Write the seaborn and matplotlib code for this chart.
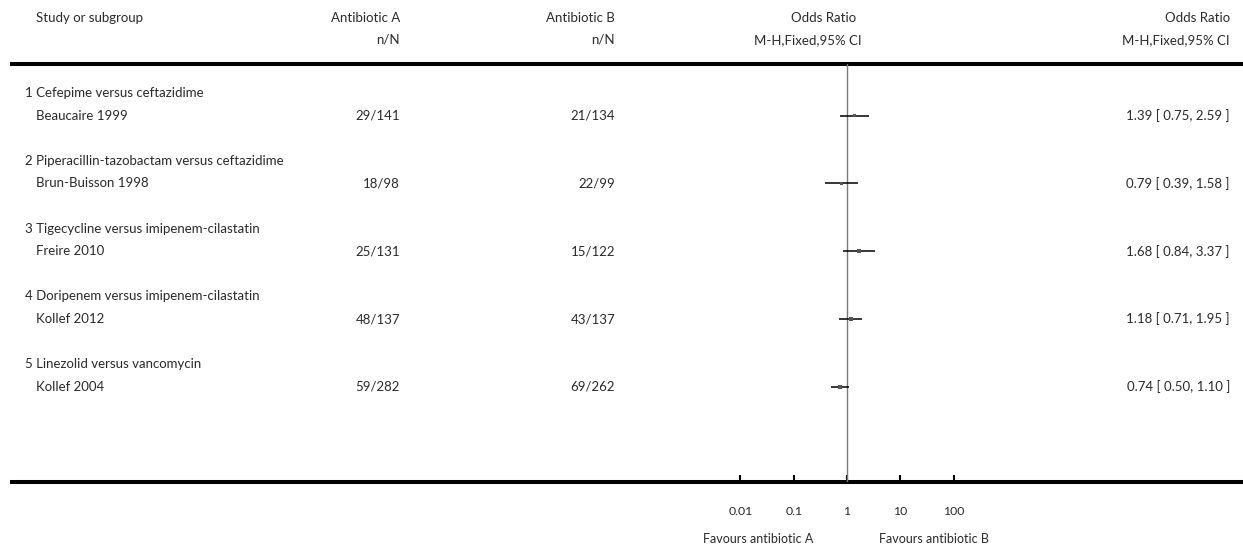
import numpy as np
import pandas as pd
import matplotlib
matplotlib.use("Agg")
import matplotlib.pyplot as plt
import seaborn as sns

# ---------------- data ----------------
groups = ["1 Cefepime versus ceftazidime",
          "2 Piperacillin-tazobactam versus ceftazidime",
          "3 Tigecycline versus imipenem-cilastatin",
          "4 Doripenem versus imipenem-cilastatin",
          "5 Linezolid versus vancomycin"]
studies = ["Beaucaire 1999", "Brun-Buisson 1998", "Freire 2010", "Kollef 2012", "Kollef 2004"]
a_events = [29, 18, 25, 48, 59]
a_total = [141, 98, 131, 137, 282]
b_events = [21, 22, 15, 43, 69]
b_total = [134, 99, 122, 137, 262]
odds = [1.39, 0.79, 1.68, 1.18, 0.74]
ci_low = [0.75, 0.39, 0.84, 0.71, 0.50]
ci_high = [2.59, 1.58, 3.37, 1.95, 1.10]
tick_vals = [0.01, 0.1, 1, 10, 100]
tick_labels = ["0.01", "0.1", "1", "10", "100"]
header1 = ["Study or subgroup", "Antibiotic A", "Antibiotic B", "Odds Ratio", "Odds Ratio"]
header2 = ["n/N", "n/N", "M-H,Fixed,95% CI", "M-H,Fixed,95% CI"]
favours = ["Favours antibiotic A", "Favours antibiotic B"]

df = pd.DataFrame({"study": studies, "or": odds, "lo": ci_low, "hi": ci_high,
                   "row": [3 * i + 1 for i in range(len(studies))]})

# ---------------- layout ----------------
sns.set_theme(style="white")
FONT = ["Lato", "DejaVu Sans"]
plt.rcParams["font.family"] = FONT

W, H = 1243, 550
fig = plt.figure(figsize=(W / 100, H / 100), dpi=100)

tab = fig.add_axes([0, 0, 1, 1])
tab.set_xlim(0, W)
tab.set_ylim(H, 0)
tab.axis("off")

ROW0, PITCH = 93, 22.6
def ypix(u):
    return ROW0 + PITCH * u

fs = 9.5
col = "#2a2a2a"
kw = dict(va="center", fontsize=fs, color=col)
# header
tab.text(36, 18, header1[0], ha="left", **kw)
tab.text(400, 18, header1[1], ha="right", **kw)
tab.text(615, 18, header1[2], ha="right", **kw)
tab.text(824, 18, header1[3], ha="center", **kw)
tab.text(1230, 18, header1[4], ha="right", **kw)
tab.text(400, 40, header2[0], ha="right", **kw)
tab.text(615, 40, header2[1], ha="right", **kw)
tab.text(808, 40, header2[2], ha="center", **kw)
tab.text(1230, 40, header2[3], ha="right", **kw)

TOP_LINE, BOT_LINE = 64, 482
tab.plot([10, W], [TOP_LINE, TOP_LINE], color="black", lw=2.9, solid_capstyle="butt")
tab.plot([10, W], [BOT_LINE, BOT_LINE], color="black", lw=2.9, solid_capstyle="butt")

for i in range(len(studies)):
    gy = ypix(3 * i)
    sy = ypix(3 * i + 1)
    tab.text(25, gy, groups[i], ha="left", **kw)
    tab.text(36, sy, studies[i], ha="left", **kw)
    tab.text(400, sy, f"{a_events[i]}/{a_total[i]}", ha="right", **kw)
    tab.text(615, sy, f"{b_events[i]}/{b_total[i]}", ha="right", **kw)
    tab.text(1230, sy, f"{odds[i]:.2f} [ {ci_low[i]:.2f}, {ci_high[i]:.2f} ]", ha="right", **kw)

kw_small = dict(va="center", fontsize=9, color=col)
tab.text(758, 539, favours[0], ha="center", **kw_small)
tab.text(934, 539, favours[1], ha="center", **kw_small)

# ---------------- forest axes ----------------
X0, X1 = 700, 1000
ax = fig.add_axes([X0 / W, (H - BOT_LINE) / H, (X1 - X0) / W, (BOT_LINE - TOP_LINE) / H])
ax.patch.set_alpha(0)
ax.set_xscale("log")
PX_DEC = 53.3
XONE = 847
ax.set_xlim(10 ** ((X0 - XONE) / PX_DEC), 10 ** ((X1 - XONE) / PX_DEC))
ax.set_ylim((BOT_LINE - ROW0) / PITCH, (TOP_LINE - ROW0) / PITCH)
ax.axvline(1, color="#7a7a7a", lw=1, zorder=1)
ax.hlines(df["row"], df["lo"], df["hi"], color="black", lw=1.1, zorder=2)
sns.scatterplot(data=df, x="or", y="row", marker="s", s=6, color="#555555",
                edgecolor="none", ax=ax, zorder=3, legend=False)
for s in ax.spines.values():
    s.set_visible(False)
ax.set_xticks(tick_vals)
ax.set_xticklabels(tick_labels)
ax.minorticks_off()
ax.set_yticks([])
ax.set_xlabel("")
ax.set_ylabel("")
ax.tick_params(axis="x", direction="in", length=5, width=1.5, color="black",
               labelsize=8.8, labelcolor=col, pad=17, bottom=True)
ax.grid(False)

fig.savefig("out.png", dpi=100)
